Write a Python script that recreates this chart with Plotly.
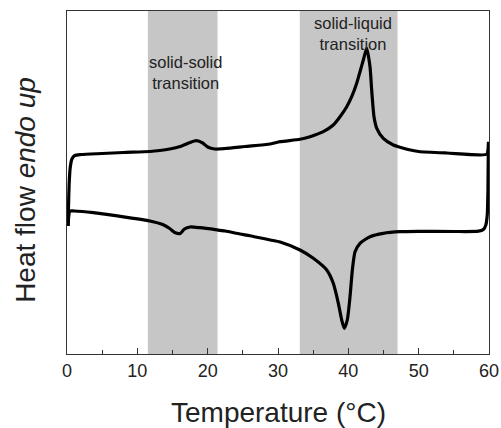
import plotly.graph_objects as go

# Heating scan (endo up), temperature in °C, heat flow in arbitrary units
heat_T = [0.15, 0.22, 0.3, 0.45, 0.7, 1.1, 2, 5, 8, 11.8, 13.2, 14.6, 16.1, 17.5, 18.4,
          19.3, 20, 21, 22.5, 25.3, 28.9, 30.3, 33.13, 34.55, 36.44, 37.86, 38.82,
          39.77, 40.48, 41.19, 41.66, 42.13, 42.61, 43.08, 43.32, 43.65, 44.04, 44.97,
          46.4, 47.35, 48.5, 50, 54, 59.7, 59.85, 59.92]
heat_HF = [1.28, 1.49, 1.69, 1.86, 1.95, 1.985, 1.995, 2.005, 2.015, 2.025, 2.035, 2.05,
           2.075, 2.115, 2.133, 2.11, 2.07, 2.05, 2.055, 2.075, 2.10, 2.123, 2.147,
           2.173, 2.223, 2.29, 2.373, 2.473, 2.573, 2.707, 2.823, 2.94, 3.057, 2.873,
           2.64, 2.373, 2.257, 2.157, 2.09, 2.067, 2.045, 2.025, 2.01, 1.997, 2.04, 2.123]

# Cooling scan
cool_T = [59.9, 59.85, 59.75, 59.55, 59.2, 58.5, 55, 50, 47.35, 44.97, 43.08, 41.66,
          40.95, 40.57, 40.24, 39.85, 39.43, 39.06, 38.58, 37.86, 36.93, 35.02, 33.13,
          30.3, 28.9, 26, 24.6, 22.5, 21.3, 18.9, 17.5, 16.7, 16.1, 15.4, 14.6, 13.6,
          11.8, 8.49, 3.74, 1, 0.4, 0.25, 0.15]
cool_HF = [2.04, 1.64, 1.39, 1.29, 1.245, 1.228, 1.225, 1.226, 1.223, 1.207, 1.173,
           1.107, 1.023, 0.84, 0.573, 0.34, 0.257, 0.34, 0.507, 0.707, 0.84, 0.957, 1.04,
           1.12, 1.14, 1.183, 1.20, 1.23, 1.242, 1.263, 1.27, 1.25, 1.205, 1.212, 1.255,
           1.295, 1.33, 1.367, 1.413, 1.43, 1.43, 1.38, 1.28]

# Transition regions (°C)
bands = [(11.5, 21.4), (33.1, 47.0)]
band_labels = ["solid-solid<br>transition", "solid-liquid<br>transition"]
label_T = [16.85, 40.67]
label_HF = [2.815, 3.21]

x_ticks = [0, 10, 20, 30, 40, 50, 60]

fig = go.Figure()
fig.add_trace(go.Scatter(x=heat_T, y=heat_HF, mode="lines",
                         line=dict(color="black", width=3.2, shape="spline", smoothing=0.6),
                         hoverinfo="skip", showlegend=False))
fig.add_trace(go.Scatter(x=cool_T, y=cool_HF, mode="lines",
                         line=dict(color="black", width=3.2, shape="spline", smoothing=0.6),
                         hoverinfo="skip", showlegend=False))

for (a, b) in bands:
    fig.add_shape(type="rect", xref="x", yref="paper", x0=a, x1=b, y0=0, y1=1,
                  fillcolor="#c6c6c6", line=dict(width=0), layer="below")

for txt, tx, ty in zip(band_labels, label_T, label_HF):
    fig.add_annotation(x=tx, y=ty, xref="x", yref="y", text=txt, showarrow=False,
                       font=dict(family="Liberation Sans, Arial", size=16.5, color="#222222"),
                       xanchor="center", yanchor="middle")

fig.add_annotation(x=-0.1, y=0.478, xref="paper", yref="paper",
                   text="Heat flow <i>endo up</i>", textangle=-90, showarrow=False,
                   font=dict(family="Liberation Sans, Arial", size=28, color="#222222"),
                   xanchor="center", yanchor="middle")
fig.add_annotation(x=0.5, y=-0.172, xref="paper", yref="paper",
                   text="Temperature (°C)", showarrow=False,
                   font=dict(family="Liberation Sans, Arial", size=28, color="#222222"),
                   xanchor="center", yanchor="middle")

fig.update_layout(
    width=501, height=428,
    margin=dict(l=67, r=12, t=11, b=74, autoexpand=False),
    paper_bgcolor="white", plot_bgcolor="white",
    xaxis=dict(range=[0, 60], tickvals=x_ticks, ticks="inside", ticklen=6, tickwidth=1.3,
               tickcolor="#333333", showline=True, linecolor="#333333", linewidth=1.3,
               mirror=True, showgrid=False, zeroline=False, automargin=False,
               minor=dict(dtick=5, ticks="inside", ticklen=4, tickwidth=1.3, tickcolor="#333333"),
               tickfont=dict(family="Liberation Sans, Arial", size=18, color="#222222")),
    yaxis=dict(range=[0, 3.43], showticklabels=False, ticks="", showline=True,
               linecolor="#333333", linewidth=1.3, mirror=True, showgrid=False,
               zeroline=False, automargin=False),
)

fig.write_html("out.html")
